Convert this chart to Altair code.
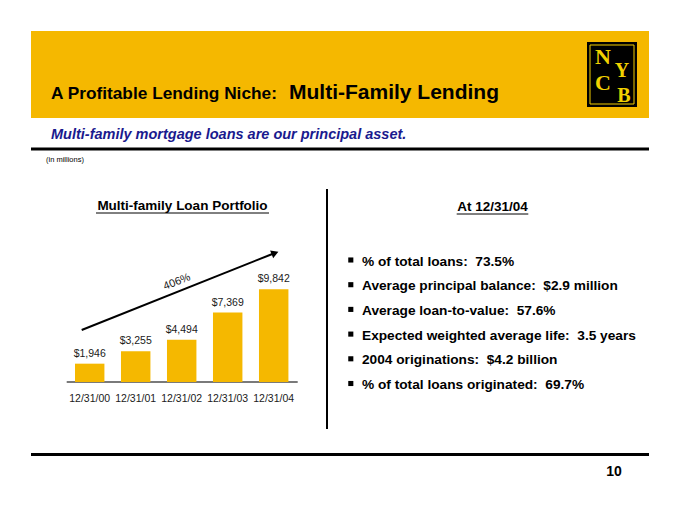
import altair as alt
import pandas as pd

# ---- data ----
dates = ["12/31/00", "12/31/01", "12/31/02", "12/31/03", "12/31/04"]
values = [1946, 3255, 4494, 7369, 9842]
value_labels = ["$1,946", "$3,255", "$4,494", "$7,369", "$9,842"]
growth_label = "406%"

bullets = [
    "% of total loans:\u00a0 73.5%",
    "Average principal balance:\u00a0 $2.9 million",
    "Average loan-to-value:\u00a0 57.6%",
    "Expected weighted average life:\u00a0 3.5 years",
    "2004 originations:\u00a0 $4.2 billion",
    "% of total loans originated:\u00a0 69.7%",
]

GOLD = "#F5B800"
SANS = "Liberation Sans, Arial, sans-serif"
one = pd.DataFrame({"k": [0]})


def txt(s, x, y, size, weight="normal", style="normal", color="black",
        font=SANS, align="left", angle=0, baseline="alphabetic"):
    props = dict(text=s, fontSize=size, fontWeight=weight, fontStyle=style,
                 color=color, font=font, align=align, baseline=baseline)
    if angle:
        props["angle"] = angle
    return alt.Chart(one).mark_text(**props).encode(x=alt.value(x), y=alt.value(y))


def rule(x1, y1, x2, y2, color="black", w=1):
    return alt.Chart(one).mark_rule(color=color, strokeWidth=w).encode(
        x=alt.value(x1), y=alt.value(y1), x2=alt.value(x2), y2=alt.value(y2))


def rect(x1, y1, x2, y2, fill, stroke=None, sw=0):
    props = dict(fill=fill)
    if stroke:
        props.update(stroke=stroke, strokeWidth=sw)
    return alt.Chart(one).mark_rect(**props).encode(
        x=alt.value(x1), y=alt.value(y1), x2=alt.value(x2), y2=alt.value(y2))


# ---- header ----
banner = rect(31, 31, 649, 118, GOLD)
title1 = txt("A Profitable Lending Niche:", 51, 99, 17.3, weight="bold")
title2 = txt("Multi-Family Lending", 289, 99, 21, weight="bold")
logo_bg = rect(587, 42, 637, 107, "black")
logo_frame = rect(590, 45, 634, 104, "transparent", stroke="#F2CC00", sw=1)
logo_font = "Liberation Serif, DejaVu Serif, serif"
LOGO_C = "#F2D200"
logo = [
    txt("N", 603, 64, 22, weight="bold", color=LOGO_C, font=logo_font, align="center"),
    txt("Y", 622, 77, 20, weight="bold", color=LOGO_C, font=logo_font, align="center"),
    txt("C", 603, 90, 22, weight="bold", color=LOGO_C, font=logo_font, align="center"),
    txt("B", 624, 102, 20, weight="bold", color=LOGO_C, font=logo_font, align="center"),
]
subtitle = txt("Multi-family mortgage loans are our principal asset.", 51, 139, 14.5,
               weight="bold", style="italic", color="#1A1A8E")
top_rule = rule(31, 149, 649, 149, w=3)
units = txt("(in millions)", 46, 162, 7.5)

# ---- left: bar chart ----
df = pd.DataFrame({"date": dates, "value": values, "label": value_labels})
xs = alt.Scale(domain=dates, range=[66.7, 296.7], paddingInner=0.36, paddingOuter=0.18)
ys = alt.Scale(domain=[0, 10000], range=[382, 287.8])
base = alt.Chart(df)
bars = base.mark_bar(color=GOLD).encode(
    x=alt.X("date:N", scale=xs, axis=None, sort=dates),
    y=alt.Y("value:Q", scale=ys, axis=None),
)
bar_labels = base.mark_text(fontSize=10.5, font=SANS, color="#1a1a1a",
                            baseline="alphabetic", dy=-7).encode(
    x=alt.X("date:N", scale=xs, axis=None, sort=dates),
    y=alt.Y("value:Q", scale=ys, axis=None),
    text="label:N",
)
x_labels = base.mark_text(fontSize=10.5, font=SANS, color="#1a1a1a",
                          baseline="alphabetic").encode(
    x=alt.X("date:N", scale=xs, axis=None, sort=dates),
    y=alt.value(401.5),
    text="date:N",
)
baseline_rule = rule(66.7, 382, 297.7, 382, color="#7a7a7a", w=2)

chart_title = txt("Multi-family Loan Portfolio", 182.5, 210, 13.5, weight="bold", align="center")
chart_title_ul = rule(96, 213, 269, 213, w=1)

arrow_line = rule(81.7, 330, 273, 253.7, w=2)
arrow_head = alt.Chart(one).mark_point(shape="triangle-right", filled=True, color="black",
                                       size=70, angle=338.3, opacity=1).encode(
    x=alt.value(275), y=alt.value(253))
growth = txt(growth_label, 177, 282, 11, align="center", angle=338.3, baseline="middle",
             color="#1a1a1a")

# ---- divider ----
divider = rule(327, 189, 327, 429, w=2)

# ---- right: bullets ----
right_title = txt("At 12/31/04", 492.5, 211, 13.5, weight="bold", align="center")
right_title_ul = rule(456.7, 214, 528.3, 214, w=1)
bullet_centers = [260, 284.7, 309.4, 334.1, 358.8, 383.5]
bdf = pd.DataFrame({"text": bullets, "yc": bullet_centers})
pix = alt.Scale(domain=[0, 525], range=[0, 525])
bullet_marks = alt.Chart(bdf).mark_square(size=26, color="black", opacity=1).encode(
    x=alt.value(350.8),
    y=alt.Y("yc:Q", scale=pix, axis=None),
)
bullet_text = alt.Chart(bdf).mark_text(fontSize=13.7, fontWeight="bold", font=SANS,
                                       align="left", baseline="alphabetic", dy=5.5,
                                       color="black").encode(
    x=alt.value(362),
    y=alt.Y("yc:Q", scale=pix, axis=None),
    text="text:N",
)

# ---- footer ----
footer_rule = rule(31, 454.5, 649, 454.5, w=3)
page_no = txt("10", 614, 476, 14, weight="bold", align="center")

layers = [banner, title1, title2, logo_bg, logo_frame] + logo + [
    subtitle, top_rule, units,
    baseline_rule, bars, bar_labels, x_labels, chart_title, chart_title_ul,
    arrow_line, arrow_head, growth,
    divider, right_title, right_title_ul, bullet_marks, bullet_text,
    footer_rule, page_no,
]

chart = alt.layer(*layers).resolve_scale(x="independent", y="independent").properties(
    width=680, height=525, padding=0, autosize="none"
).configure_view(stroke=None)

chart.save("out.html", embed_options={"renderer": "svg", "actions": False})
